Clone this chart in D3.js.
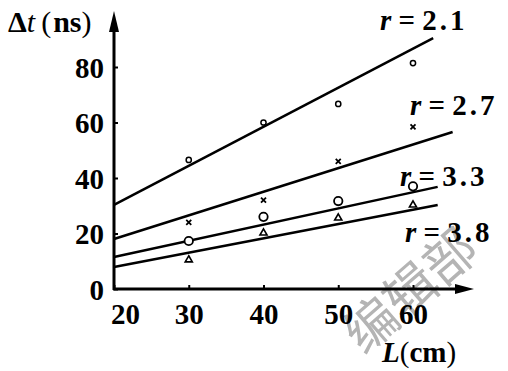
<!DOCTYPE html>
<html>
<head>
<meta charset="utf-8">
<script src="https://cdn.jsdelivr.net/npm/d3@7"></script>
<style>
  body { margin: 0; background: #fff; }
  svg text { font-family: "Liberation Serif", "DejaVu Serif", serif; font-weight: bold; fill: #000; }
</style>
</head>
<body>
<script>
// data
var xTicks = [20, 30, 40, 50, 60];
var yTicks = [0, 20, 40, 60, 80];
var lengths = [30, 40, 50, 60];
var series = ["2.1", "2.7", "3.3", "3.8"];
var dt21 = [46.5, 60, 66.7, 81.4];
var dt27 = [24, 32, 46, 58.4];
var dt33 = [17.3, 26, 31.7, 37];
var dt38 = [10.5, 20.2, 25.6, 30.3];
// fitted lines: [L, dt] at start and end
var fit21 = [[20, 30.3], [62.7, 90.4]];
var fit27 = [[20, 18], [65.3, 56.6]];
var fit33 = [[20, 11.5], [63.3, 36.8]];
var fit38 = [[20, 7.9], [63.3, 30.3]];

var width = 508, height = 371;

var svg = d3.select("body").append("svg")
    .attr("width", width)
    .attr("height", height);

var x = d3.scaleLinear().domain([20, 60]).range([114, 413]);
var y = d3.scaleLinear().domain([0, 80]).range([289, 67]);

//watermark behind the chart
svg.append("text")
    .attr("transform", "translate(364,356) rotate(-41)")
    .style("font-family", "Noto Sans CJK SC")
    .style("font-weight", "normal")
    .style("font-size", "52px")
    .style("fill", "#b4b4b4")
    .text("编辑部");

//axes
var xAxis = svg.append("g")
    .attr("transform", "translate(0," + y(0) + ")")
    .call(d3.axisBottom(x).tickValues(xTicks).tickSizeInner(-4).tickSizeOuter(0).tickPadding(14));
var yAxis = svg.append("g")
    .attr("transform", "translate(" + x(20) + ",0)")
    .call(d3.axisLeft(y).tickValues(yTicks).tickSizeInner(-4).tickSizeOuter(0).tickPadding(10));

[xAxis, yAxis].forEach(function(g) {
    g.select(".domain").remove();
    g.selectAll(".tick line").attr("stroke", "#000").attr("stroke-width", 2);
    g.selectAll(".tick text")
        .style("font-family", "Liberation Serif")
        .style("font-weight", "bold")
        .style("font-size", "29px")
        .attr("fill", "#000");
});
xAxis.selectAll(".tick text").attr("dy", "0.71em")
    .attr("dx", function(d) { return d == 20 ? 11 : 0; });
yAxis.selectAll(".tick text").attr("dy", "0.35em");

//axis lines with arrows
svg.append("line")
    .attr("x1", x(20) - 1).attr("y1", y(0))
    .attr("x2", 462).attr("y2", y(0))
    .attr("stroke", "#000").attr("stroke-width", 3);
svg.append("path")
    .attr("d", "M455," + (y(0) - 5) + "L474," + y(0) + "L455," + (y(0) + 5) + "Z")
    .attr("fill", "#000");
svg.append("line")
    .attr("x1", x(20)).attr("y1", y(0) + 1)
    .attr("x2", x(20)).attr("y2", 22)
    .attr("stroke", "#000").attr("stroke-width", 3);
svg.append("path")
    .attr("d", "M" + (x(20) - 5) + ",32L" + x(20) + ",11L" + (x(20) + 5) + ",32Z")
    .attr("fill", "#000");

//fitted lines
var line = d3.line()
    .x(function(d) { return x(d[0]); })
    .y(function(d) { return y(d[1]); });

[fit21, fit27, fit33, fit38].forEach(function(f) {
    svg.append("path")
        .datum(f)
        .attr("d", line)
        .attr("fill", "none")
        .attr("stroke", "#000")
        .attr("stroke-width", 2.5);
});

//measured points
svg.selectAll(".p21").data(dt21).enter().append("circle")
    .attr("cx", function(d, i) { return x(lengths[i]); })
    .attr("cy", function(d) { return y(d); })
    .attr("r", 2.6)
    .attr("fill", "#fff").attr("stroke", "#000").attr("stroke-width", 1.5);

svg.selectAll(".p27").data(dt27).enter().append("path")
    .attr("d", function(d, i) {
        var cx = x(lengths[i]), cy = y(d), s = 2.5;
        return "M" + (cx - s) + "," + (cy - s) + "L" + (cx + s) + "," + (cy + s) +
            "M" + (cx + s) + "," + (cy - s) + "L" + (cx - s) + "," + (cy + s);
    })
    .attr("stroke", "#000").attr("stroke-width", 1.8);

svg.selectAll(".p33").data(dt33).enter().append("circle")
    .attr("cx", function(d, i) { return x(lengths[i]); })
    .attr("cy", function(d) { return y(d); })
    .attr("r", 4.2)
    .attr("fill", "#fff").attr("stroke", "#000").attr("stroke-width", 1.8);

svg.selectAll(".p38").data(dt38).enter().append("path")
    .attr("d", d3.symbol().type(d3.symbolTriangle).size(22))
    .attr("transform", function(d, i) { return "translate(" + x(lengths[i]) + "," + y(d) + ")"; })
    .attr("fill", "#fff").attr("stroke", "#000").attr("stroke-width", 1.6);

//series labels
var labelPos = [[380, 30], [410, 115], [400, 186], [405, 242]];
series.forEach(function(s, i) {
    var t = svg.append("text")
        .attr("x", labelPos[i][0]).attr("y", labelPos[i][1])
        .style("font-size", "29px");
    t.append("tspan").style("font-style", "italic").text("r");
    t.append("tspan").attr("xml:space", "preserve").text(" = ");
    t.append("tspan").style("letter-spacing", "3px").text(s);
});

//axis titles
var yt = svg.append("text").attr("x", 8).attr("y", 32).style("font-size", "30px");
yt.append("tspan").text("Δ");
yt.append("tspan").style("font-style", "italic").style("font-weight", "normal").text("t");
yt.append("tspan").attr("dx", 6).style("font-weight", "normal").text("(");
yt.append("tspan").attr("dx", 2).text("ns");
yt.append("tspan").style("font-weight", "normal").text(")");

var xt = svg.append("text").attr("x", 382).attr("y", 362).style("font-size", "29px");
xt.append("tspan").style("font-style", "italic").text("L");
xt.append("tspan").style("font-weight", "normal").text("(");
xt.append("tspan").text("cm");
xt.append("tspan").style("font-weight", "normal").text(")");
</script>
</body>
</html>
